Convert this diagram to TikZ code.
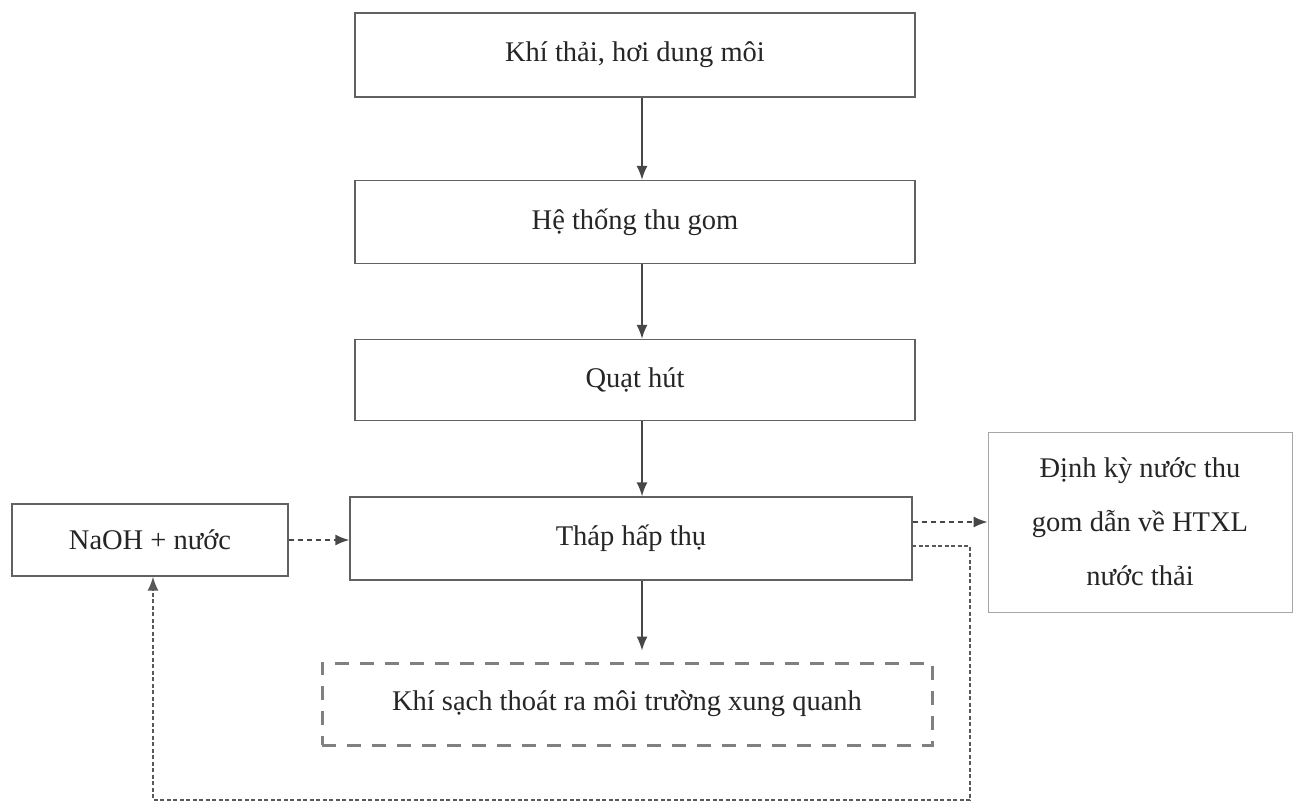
\documentclass[tikz,border=0pt]{standalone}
\usepackage{fontspec}
\setmainfont{Liberation Serif}
\usetikzlibrary{arrows.meta}
\begin{document}
\begin{tikzpicture}[x=1pt,y=-1pt,
  every node/.style={text=black!85, font=\fontsize{28.5}{54}\selectfont},
  stepbox/.style={draw=black!62, line width=1.4pt, rectangle, inner sep=0pt},
  tip/.style={-{Latex[length=14pt,width=11pt]}},
  flow/.style={draw=black!72, line width=1.5pt, tip},
  dflow/.style={draw=black!72, line width=1.5pt, dash pattern=on 5pt off 4pt, tip},
  dotline/.style={draw=black!65, line width=1.6pt, dash pattern=on 4pt off 2.5pt},
  outbox/.style={draw=black!50, line width=3pt, dash pattern=on 14pt off 11pt, rectangle, inner sep=0pt}]
  \useasboundingbox (0,0) rectangle (1296,808);
  \fill[white] (0,0) rectangle (1296,808);

  % main column
  \node[stepbox, minimum width=560pt, minimum height=84pt] (b1) at (635,55) {Khí thải, hơi dung môi};
  \node[stepbox, minimum width=560pt, minimum height=83pt] (b2) at (635,222) {Hệ thống thu gom};
  \node[stepbox, minimum width=560pt, minimum height=81pt] (b3) at (635,380) {Quạt hút};
  \node[stepbox, minimum width=562pt, minimum height=83pt] (b4) at (631,538.5) {Tháp hấp thụ};
  \node[outbox, minimum width=610pt, minimum height=82pt] (gb) at (627,704) {Khí sạch thoát ra môi trường xung quanh};

  % side boxes
  \node[stepbox, minimum width=276pt, minimum height=72pt] (na) at (150,540) {NaOH + nước};
  \node[stepbox, draw=black!35, line width=1pt, minimum width=304pt, minimum height=180pt, align=center] (dk) at (1140,522)
    {Định kỳ nước thu\\gom dẫn về HTXL\\nước thải};

  % connectors
  \coordinate (ax) at (642,0);
  \draw[flow] (b1.south -| ax) -- (b2.north -| ax);
  \draw[flow] (b2.south -| ax) -- (b3.north -| ax);
  \draw[flow] (b3.south -| ax) -- (b4.north -| ax);
  \draw[flow, shorten >=11pt] (b4.south -| ax) -- (gb.north -| ax);

  \draw[dflow] (na.east) -- (b4.west |- na.east);
  \coordinate (dy) at (0,522);
  \draw[dflow] (b4.east |- dy) -- (dk.west |- dy);

  % return line for the washing liquid
  \coordinate (r1) at (912,546);
  \coordinate (r2) at (970,546);
  \coordinate (r3) at (970,800);
  \coordinate (r4) at (153,800);
  \draw[dotline, tip] (r1) -- (r2) -- (r3) -- (r4) -- (na.south -| r4);
\end{tikzpicture}
\end{document}
